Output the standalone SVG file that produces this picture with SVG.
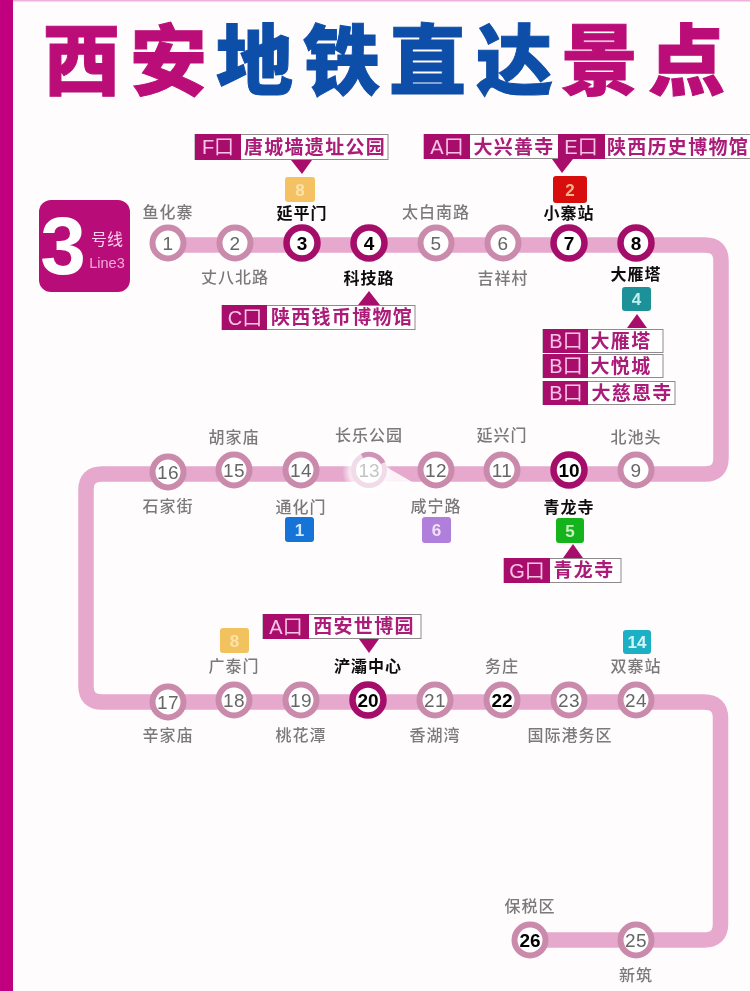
<svg xmlns="http://www.w3.org/2000/svg" width="750" height="991" viewBox="0 0 750 991">
<style>
text{font-family:"Noto Sans CJK SC","Liberation Sans",sans-serif;text-anchor:middle}
.line{fill:none;stroke:#e6a8cc;stroke-width:15.5}
.r{fill:#fff;stroke:#c98aac;stroke-width:6}
.d{fill:#fff;stroke:#a50f6a;stroke-width:6.5}
.n,.big,.n13,.ln{font-family:"Liberation Sans",sans-serif}
.n{font-size:19px;fill:#666;letter-spacing:.5px}
.n13{font-size:19px;fill:#c5c5c5}
.big{font-size:82px;font-weight:bold;fill:#fff}
.ln{font-size:14.500px;fill:#f4a8d8}
.nd{font-family:"Liberation Sans",sans-serif;font-size:19px;fill:#000;font-weight:bold}
.l{font-size:16px;fill:#7a7a7a;letter-spacing:1px;font-weight:500}
.lb{font-size:16px;fill:#111;letter-spacing:1px;font-weight:700}
.ex{fill:#a90f6c}
.box{fill:#fff;stroke:#8e8a8e;stroke-width:1}
.ec{font-family:"Liberation Sans","Noto Sans CJK SC",sans-serif;font-size:20px;fill:#f7c4e6}
.en{font-size:19px;fill:#ab1a78;letter-spacing:1.3px;font-weight:700}
.bt{font-family:"Liberation Sans",sans-serif;font-size:17px;font-weight:bold}
.title{font-size:77px;font-weight:900;stroke-width:1px;text-anchor:start}
</style>
<defs>
<radialGradient id="glow"><stop offset="0" stop-color="#fff" stop-opacity=".85"/><stop offset=".7" stop-color="#fff" stop-opacity=".7"/><stop offset="1" stop-color="#fff" stop-opacity="0"/></radialGradient>
<filter id="soft" x="0" y="0" width="100%" height="100%"><feGaussianBlur stdDeviation="0.35"/></filter>
</defs>
<rect width="750" height="991" fill="#fffcfe"/>
<g filter="url(#soft)">
<rect x="0" y="0" width="750" height="1.5" fill="#eeb0dc"/>
<rect x="0" y="0" width="13" height="991" fill="#c0047f"/>
<g id="title">
<text class="title" y="89" x="43" fill="#bb0f78" stroke="#bb0f78">西</text>
<text class="title" y="89" x="130" fill="#bb0f78" stroke="#bb0f78">安</text>
<text class="title" y="89" x="216" fill="#0f4fa8" stroke="#0f4fa8">地</text>
<text class="title" y="89" x="303" fill="#0f4fa8" stroke="#0f4fa8">铁</text>
<text class="title" y="89" x="389" fill="#0f4fa8" stroke="#0f4fa8">直</text>
<text class="title" y="89" x="476" fill="#0f4fa8" stroke="#0f4fa8">达</text>
<text class="title" y="89" x="561" fill="#bb0f78" stroke="#bb0f78">景</text>
<text class="title" y="89" x="648" fill="#bb0f78" stroke="#bb0f78">点</text>
</g>
<g id="line-badge">
<rect x="39" y="200" width="91" height="92" rx="12" fill="#b80f78"/>
<text class="big" x="63" y="274">3</text>
<text x="107" y="245" font-size="16" fill="#f9d2ea">号线</text>
<text class="ln" x="107" y="268">Line3</text>
</g>
<g id="connectors">
<path class="line" d="M168 245H705Q721 245 721 261V458Q721 474 705 474H102Q86 474 86 490V686Q86 702 102 702H704Q720.500 702 720.500 718V924Q720.500 940 704 940H530"/>
</g>
<g id="s1"><circle class="r" cx="168" cy="243" r="15.500"/><text class="n" x="168" y="250">1</text><text class="l" x="168" y="218">鱼化寨</text></g>
<g id="s2"><circle class="r" cx="235" cy="243" r="15.500"/><text class="n" x="235" y="250">2</text><text class="l" x="235" y="283">丈八北路</text></g>
<g id="s3"><circle class="d" cx="302" cy="243" r="15.500"/><text class="nd" x="302" y="250">3</text><text class="lb" x="302" y="219">延平门</text></g>
<g id="s4"><circle class="d" cx="369" cy="243" r="15.500"/><text class="nd" x="369" y="250">4</text><text class="lb" x="369" y="284">科技路</text></g>
<g id="s5"><circle class="r" cx="436" cy="243" r="15.500"/><text class="n" x="436" y="250">5</text><text class="l" x="436" y="218">太白南路</text></g>
<g id="s6"><circle class="r" cx="503" cy="243" r="15.500"/><text class="n" x="503" y="250">6</text><text class="l" x="503" y="284">吉祥村</text></g>
<g id="s7"><circle class="d" cx="569" cy="243" r="15.500"/><text class="nd" x="569" y="250">7</text><text class="lb" x="569" y="219">小寨站</text></g>
<g id="s8"><circle class="d" cx="636" cy="243" r="15.500"/><text class="nd" x="636" y="250">8</text><text class="lb" x="636" y="280">大雁塔</text></g>
<g id="s9"><circle class="r" cx="636" cy="470" r="15.500"/><text class="n" x="636" y="477">9</text><text class="l" x="636" y="443">北池头</text></g>
<g id="s10"><circle class="d" cx="569" cy="470" r="15.500"/><text class="nd" x="569" y="477">10</text><text class="lb" x="569" y="513">青龙寺</text></g>
<g id="s11"><circle class="r" cx="502" cy="470" r="15.500"/><text class="n" x="502" y="477">11</text><text class="l" x="502" y="441">延兴门</text></g>
<g id="s12"><circle class="r" cx="436" cy="470" r="15.500"/><text class="n" x="436" y="477">12</text><text class="l" x="436" y="512">咸宁路</text></g>
<g id="s13"><ellipse cx="367" cy="472" rx="25" ry="24" fill="url(#glow)"/><polygon points="381,464 414,483 381,483" fill="#fff" opacity=".85"/><circle cx="369" cy="470" r="15.500" fill="#fff" stroke="#f1dbe8" stroke-width="5"/><path d="M362 456A15.500 15.500 0 0 1 383 463" fill="none" stroke="#cf94b5" stroke-width="5"/><text class="n13" x="369" y="477">13</text><text class="l" x="369" y="441">长乐公园</text></g>
<g id="s14"><circle class="r" cx="301" cy="470" r="15.500"/><text class="n" x="301" y="477">14</text><text class="l" x="301" y="513">通化门</text></g>
<g id="s15"><circle class="r" cx="234" cy="470" r="15.500"/><text class="n" x="234" y="477">15</text><text class="l" x="234" y="443">胡家庙</text></g>
<g id="s16"><circle class="r" cx="168" cy="472" r="15.500"/><text class="n" x="168" y="479">16</text><text class="l" x="168" y="512">石家街</text></g>
<g id="s17"><circle class="r" cx="168" cy="702" r="15.500"/><text class="n" x="168" y="709">17</text><text class="l" x="168" y="741">辛家庙</text></g>
<g id="s18"><circle class="r" cx="234" cy="700" r="15.500"/><text class="n" x="234" y="707">18</text><text class="l" x="234" y="672">广泰门</text></g>
<g id="s19"><circle class="r" cx="301" cy="700" r="15.500"/><text class="n" x="301" y="707">19</text><text class="l" x="301" y="741">桃花潭</text></g>
<g id="s20"><circle class="d" cx="368" cy="700" r="15.500"/><text class="nd" x="368" y="707">20</text><text class="lb" x="368" y="672">浐灞中心</text></g>
<g id="s21"><circle class="r" cx="435" cy="700" r="15.500"/><text class="n" x="435" y="707">21</text><text class="l" x="435" y="741">香湖湾</text></g>
<g id="s22"><circle class="r" cx="502" cy="700" r="15.500"/><text class="nd" x="502" y="707">22</text><text class="l" x="502" y="672">务庄</text></g>
<g id="s23"><circle class="r" cx="569" cy="700" r="15.500"/><text class="n" x="569" y="707">23</text><text class="l" x="570" y="741">国际港务区</text></g>
<g id="s24"><circle class="r" cx="636" cy="700" r="15.500"/><text class="n" x="636" y="707">24</text><text class="l" x="636" y="672">双寨站</text></g>
<g id="s25"><circle class="r" cx="636" cy="940" r="15.500"/><text class="n" x="636" y="947">25</text><text class="l" x="636" y="981">新筑</text></g>
<g id="s26"><circle class="r" cx="530" cy="940" r="15.500"/><text class="nd" x="530" y="947">26</text><text class="l" x="530" y="912">保税区</text></g>
<g id="t8a"><rect x="285" y="177" width="30" height="25" rx="3" fill="#f5c263"/><text class="bt" x="300" y="196" fill="#fbe3a8">8</text></g>
<g id="t2"><rect x="553" y="176" width="34" height="27" rx="3" fill="#d81010"/><text class="bt" x="570" y="196" fill="#f5b58a">2</text></g>
<g id="t4"><rect x="622" y="287" width="29" height="24" rx="3" fill="#1f9198"/><text class="bt" x="636.500" y="305" fill="#bff0ee">4</text></g>
<g id="t1"><rect x="285" y="517" width="29" height="25" rx="3" fill="#1673d8"/><text class="bt" x="299.500" y="536" fill="#d0e8ff">1</text></g>
<g id="t6"><rect x="422" y="517" width="29" height="26" rx="3" fill="#b07fdc"/><text class="bt" x="436.500" y="536" fill="#f0e0f8">6</text></g>
<g id="t5"><rect x="556" y="518" width="28" height="25" rx="3" fill="#19b41f"/><text class="bt" x="570" y="537" fill="#c8f0c0">5</text></g>
<g id="t8b"><rect x="220" y="628" width="29" height="25" rx="3" fill="#f2c25f"/><text class="bt" x="234.500" y="647" fill="#fbe3a8">8</text></g>
<g id="t14"><rect x="623" y="630" width="28" height="24" rx="3" fill="#1fb0c4"/><text class="bt" x="637" y="648" fill="#d4f4f8">14</text></g>
<g id="exit-f"><polygon class="ex" points="291,160 312,160 302,174"/><rect class="box" x="195" y="134.500" width="193" height="25"/><rect class="ex" x="195" y="134" width="46" height="26"/><text class="ec" x="218" y="154">F口</text><text class="en" x="315" y="154">唐城墙遗址公园</text></g>
<g id="exit-c"><polygon class="ex" points="358,305 380,305 369,291"/><rect class="box" x="222" y="305.500" width="193" height="24"/><rect class="ex" x="222" y="305" width="45" height="25"/><text class="ec" x="245" y="325">C口</text><text class="en" x="342" y="324">陕西钱币博物馆</text></g>
<g id="exit-ae"><polygon class="ex" points="552,159 573,159 562,173"/><rect class="box" x="424" y="134.500" width="330" height="24"/><rect class="ex" x="424" y="134" width="46" height="25"/><rect class="ex" x="558" y="134" width="47" height="25"/><text class="ec" x="447" y="154">A口</text><text class="en" x="514" y="154">大兴善寺</text><text class="ec" x="581" y="154">E口</text><text class="en" x="678" y="154">陕西历史博物馆</text></g>
<g id="exit-b"><polygon class="ex" points="627,328 647,328 637,314"/><rect class="box" x="543" y="329.500" width="120" height="23"/><rect class="ex" x="543" y="329" width="45" height="24"/><text class="ec" x="566" y="348">B口</text><text class="en" x="621" y="348">大雁塔</text><rect class="box" x="543" y="354.500" width="120" height="23"/><rect class="ex" x="543" y="354" width="45" height="24"/><text class="ec" x="566" y="373">B口</text><text class="en" x="621" y="373">大悦城</text><rect class="box" x="543" y="381.500" width="132" height="23"/><rect class="ex" x="543" y="381" width="45" height="24"/><text class="ec" x="566" y="400">B口</text><text class="en" x="632" y="400">大慈恩寺</text></g>
<g id="exit-g"><polygon class="ex" points="563,558 583,558 573,544"/><rect class="box" x="504" y="558.500" width="117" height="24"/><rect class="ex" x="504" y="558" width="46" height="25"/><text class="ec" x="527" y="578">G口</text><text class="en" x="584" y="577">青龙寺</text></g>
<g id="exit-a"><polygon class="ex" points="359,639 379,639 369,653"/><rect class="box" x="263" y="614.500" width="158" height="24"/><rect class="ex" x="263" y="614" width="46" height="25"/><text class="ec" x="286" y="634">A口</text><text class="en" x="364" y="633">西安世博园</text></g>
</g>
</svg>
